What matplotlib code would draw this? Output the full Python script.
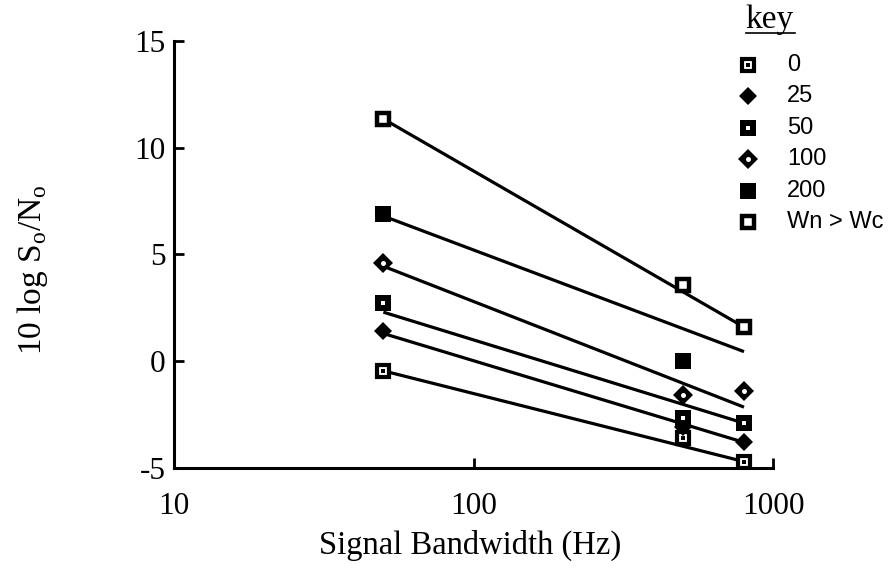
import numpy as np
import matplotlib.pyplot as plt

plt.rcParams['font.family'] = 'Liberation Serif'
plt.rcParams['mathtext.fontset'] = 'custom'
plt.rcParams['mathtext.rm'] = 'Liberation Serif'

# Measured output S/N (dB) at each signal bandwidth, one list per masker level
bandwidth = [50, 500, 800]
labels = ['0', '25', '50', '100', '200', 'Wn > Wc']
snr_0 = [-0.45, -3.6, -4.7]
snr_25 = [1.4, -3.1, -3.8]
snr_50 = [2.75, -2.65, -2.9]
snr_100 = [4.6, -1.6, -1.4]
snr_200 = [6.9, 0.0, np.nan]
snr_wide = [11.35, 3.55, 1.6]

# End points of the fitted lines, drawn from 50 Hz to 800 Hz
fit_x = [50, 800]
fit_0 = [-0.45, -4.7]
fit_25 = [1.3, -3.8]
fit_50 = [2.3, -2.9]
fit_100 = [4.45, -2.15]
fit_200 = [6.8, 0.45]
fit_wide = [11.35, 1.6]

points = [snr_0, snr_25, snr_50, snr_100, snr_200, snr_wide]
fits = [fit_0, fit_25, fit_50, fit_100, fit_200, fit_wide]

# Layered marker recipes: (marker, size, face, edge, edge width)
marker_layers = [
    [('s', 8.2, 'white', 'black', 3.0), ('s', 2.2, 'black', 'black', 0)],
    [('D', 9.5, 'black', 'black', 0)],
    [('s', 11, 'black', 'black', 0), ('s', 2.6, 'white', 'white', 0)],
    [('D', 10, 'black', 'black', 0), ('o', 3.6, 'white', 'white', 0)],
    [('s', 11, 'black', 'black', 0)],
    [('s', 8.4, 'white', 'black', 3.2)],
]


def draw_marker(ax, x, y, layers, **kw):
    for (m, ms, fc, ec, mew) in layers:
        ax.plot(x, y, linestyle='none', marker=m, ms=ms, mfc=fc,
                mec=ec, mew=mew, zorder=5, **kw)


fig = plt.figure(figsize=(8.91, 5.71), dpi=100)
ax = fig.add_axes([0.1953, 0.1804, 0.6723, 0.7478])

for i in range(len(labels)):
    ax.plot(fit_x, fits[i], c='black', lw=2.3, solid_capstyle='butt', zorder=3)
    draw_marker(ax, bandwidth, points[i], marker_layers[i])

ax.set_xscale('log')
ax.set_xlim(10, 1000)
ax.set_ylim(-5, 15)
ax.set_xticks([10, 100, 1000])
ax.set_xticklabels(['10', '100', '1000'])
ax.xaxis.set_minor_locator(plt.NullLocator())
ax.set_yticks([-5, 0, 5, 10, 15])
ax.set_yticklabels(['-5', '0', '5', '10', '15'])

for side in ['top', 'right']:
    ax.spines[side].set_visible(False)
for side in ['left', 'bottom']:
    ax.spines[side].set_linewidth(2.2)

ax.tick_params(axis='both', direction='in', length=7, width=2,
               labelsize=22.5)
ax.tick_params(axis='x', pad=17)
ax.tick_params(axis='y', pad=6)

fig.text(470 / 891, 1 - 545 / 571, 'Signal Bandwidth (Hz)',
         ha='center', va='center', fontsize=23.5)
fig.text(32 / 891, 1 - 270 / 571, r'10 log S$_\mathrm{o}$/N$_\mathrm{o}$',
         ha='center', va='center', rotation=90, fontsize=24)

# Key in the upper right corner
fig.text(770 / 891, 1 - 28 / 571, 'key', ha='center', va='baseline',
         fontsize=24)
fig.add_artist(plt.Line2D([746 / 891, 795 / 891], [1 - 33 / 571, 1 - 33 / 571],
                          color='black', lw=1.2))
for i, lab in enumerate(labels):
    y = 1 - (65 + 31.4 * i) / 571
    draw_marker(ax, [748 / 891], [y], marker_layers[i],
                transform=fig.transFigure, clip_on=False)
    fig.text(787 / 891, y, lab, ha='left', va='center', fontsize=17,
             family='Liberation Sans')

fig.savefig('out.png', dpi=100)
